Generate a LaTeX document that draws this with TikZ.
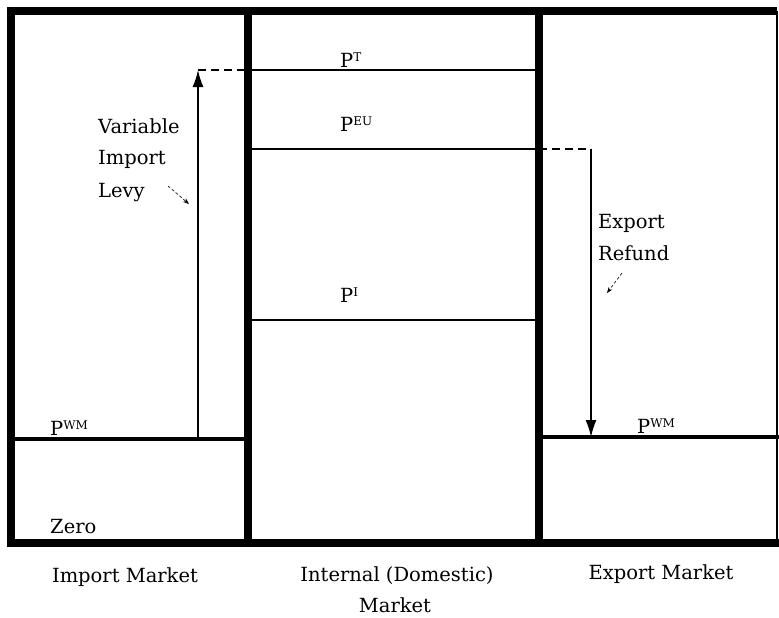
\documentclass[tikz,border=0pt]{standalone}
\usepackage{fontspec}
\setmainfont{DejaVu Serif}
\usetikzlibrary{arrows.meta}
\newcommand{\pp}[1]{P\raisebox{5.5pt}{\fontsize{12}{12}\selectfont #1}}

\begin{document}
\begin{tikzpicture}[x=1pt, y=-1pt, >={Latex[length=17pt,width=11pt]},
    every node/.style={font=\fontsize{19.5}{22}\selectfont, inner sep=0pt},
    frame/.style={line width=8pt},
    level/.style={line width=1.5pt},
    wmline/.style={line width=3.5pt},
    link/.style={line width=1.5pt, dash pattern=on 8pt off 5pt},
    hint/.style={line width=0.6pt, densely dashed, -{Stealth[length=6pt]}}]
    \useasboundingbox (0,0) rectangle (779,618);

    % Khung ba thị trường
    \draw[frame] (777,11) -- (11,11) -- (11,543) -- (779,543);
    \draw[line width=2pt] (777,11) -- (777,543);
    \draw[frame] (248,11) -- (248,543);
    \draw[frame] (539,11) -- (539,543);

    % Các mức giá
    \coordinate (tL) at (248,70);   \coordinate (tR) at (539,70);
    \coordinate (euL) at (248,149); \coordinate (euR) at (539,149);
    \coordinate (iL) at (248,320);  \coordinate (iR) at (539,320);
    \draw[level] (tL) -- (tR);
    \draw[level] (euL) -- (euR);
    \draw[level] (iL) -- (iR);

    % Giá thế giới
    \coordinate (wmA) at (11,439);  \coordinate (wmB) at (248,439);
    \coordinate (wmC) at (539,437); \coordinate (wmD) at (779,437);
    \draw[wmline] (wmA) -- (wmB);
    \draw[wmline] (wmC) -- (wmD);

    % Thuế nhập khẩu biến đổi
    \coordinate (levyfoot) at (198,439);
    \coordinate (levytop) at (198,70);
    \draw[link] (levytop) -- (tL);
    \draw[level, ->] (levyfoot) -- (levytop);

    % Trợ cấp xuất khẩu
    \coordinate (reftop) at (591,149);
    \coordinate (reffoot) at (591,437);
    \draw[link] (euR) -- (reftop);
    \draw[level, ->] (reftop) -- (reffoot);

    % Nhãn giá
    \node[anchor=base west] (pt) at (340,67) {\pp{T}};
    \node[anchor=base west] (peu) at (340,131) {\pp{EU}};
    \node[anchor=base west] (pi) at (340,302) {\pp{I}};
    \node[anchor=base west] (pwmim) at (50,435) {\pp{WM}};
    \node[anchor=base west] (pwmex) at (637,433) {\pp{WM}};
    \node[anchor=base west] (zero) at (50,533) {Zero};

    % Chú thích
    \node[anchor=base west] (var) at (98,133) {Variable};
    \node[anchor=base west] (imp) at (98,164) {Import};
    \node[anchor=base west] (levy) at (98,197) {Levy};
    \coordinate (h1a) at (168,186); \coordinate (h1b) at (189,204);
    \draw[hint] (h1a) -- (h1b);
    \node[anchor=base west] (exp) at (598,228) {Export};
    \node[anchor=base west] (ref) at (598,260) {Refund};
    \coordinate (h2a) at (622,273); \coordinate (h2b) at (607,293);
    \draw[hint] (h2a) -- (h2b);

    % Tên thị trường
    \node[anchor=base] (impm) at (125,582) {Import Market};
    \node[anchor=base] (intm) at (397,581) {Internal (Domestic)};
    \node[anchor=base] (intm2) at (395,612) {Market};
    \node[anchor=base] (expm) at (661,579) {Export Market};

\end{tikzpicture}
\end{document}
